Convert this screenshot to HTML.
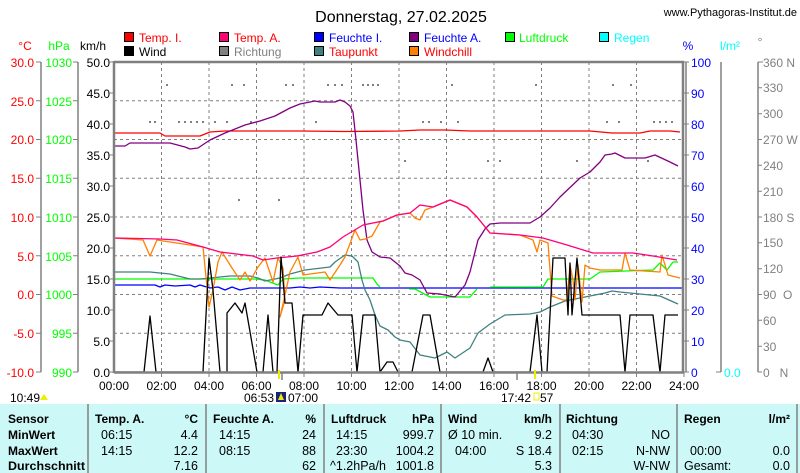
<!DOCTYPE html>
<html><head><meta charset="utf-8"><style>
html,body{margin:0;padding:0;background:#fff;}
svg{display:block;font-family:"Liberation Sans",Arial,sans-serif;}
.n{font-family:"Liberation Sans Narrow","Liberation Sans",sans-serif;}
</style></head><body>
<svg width="800" height="473" viewBox="0 0 800 473" xmlns="http://www.w3.org/2000/svg">
<text x="401" y="22" font-size="16" text-anchor="middle">Donnerstag, 27.02.2025</text>
<text x="797" y="16" font-size="11" text-anchor="end" class="n">www.Pythagoras-Institut.de</text>
<g font-size="12" class="n">
<rect x="124.5" y="32.5" width="9" height="9" fill="#f00" stroke="#000"/><text x="139" y="42" fill="#f00">Temp. I.</text>
<rect x="124.5" y="46.5" width="9" height="9" fill="#000" stroke="#000"/><text x="139" y="56" fill="#000">Wind</text>
<rect x="219.5" y="32.5" width="9" height="9" fill="#f07" stroke="#000"/><text x="234" y="42" fill="#f00">Temp. A.</text>
<rect x="219.5" y="46.5" width="9" height="9" fill="#808080" stroke="#000"/><text x="234" y="56" fill="#808080">Richtung</text>
<rect x="314.5" y="32.5" width="9" height="9" fill="#00f" stroke="#000"/><text x="329" y="42" fill="#00f">Feuchte I.</text>
<rect x="314.5" y="46.5" width="9" height="9" fill="#408080" stroke="#000"/><text x="329" y="56" fill="#f00">Taupunkt</text>
<rect x="409.5" y="32.5" width="9" height="9" fill="#800080" stroke="#000"/><text x="424" y="42" fill="#00f">Feuchte A.</text>
<rect x="409.5" y="46.5" width="9" height="9" fill="#ff8000" stroke="#000"/><text x="424" y="56" fill="#f00">Windchill</text>
<rect x="505.5" y="32.5" width="9" height="9" fill="#0f0" stroke="#000"/><text x="519" y="42" fill="#0f0">Luftdruck</text>
<rect x="599.5" y="32.5" width="9" height="9" fill="#0ff" stroke="#000"/><text x="614" y="42" fill="#0ff">Regen</text>
</g>
<g font-size="12" class="n">
<text x="25" y="50" fill="#f00" text-anchor="middle">°C</text>
<text x="59" y="50" fill="#0f0" text-anchor="middle">hPa</text>
<text x="93" y="50" fill="#000" text-anchor="middle">km/h</text>
<text x="688" y="50" fill="#00f" text-anchor="middle">%</text>
<text x="730" y="50" fill="#0ff" text-anchor="middle">l/m²</text>
<text x="760" y="46" fill="#808080" text-anchor="middle">°</text>
</g>
<g stroke="#808080" stroke-width="1.5">
<line x1="41" y1="62" x2="41" y2="372"/><line x1="78" y1="62" x2="78" y2="372"/>
<line x1="721" y1="62" x2="721" y2="372"/><line x1="758" y1="62" x2="758" y2="372"/>
</g>
<g stroke="#808080" stroke-width="1">
<path d="M36 62H41M36 100.75H41M36 139.5H41M36 178.25H41M36 217H41M36 255.75H41M36 294.5H41M36 333.25H41M36 372H41"/>
<path d="M73 62H78M73 100.75H78M73 139.5H78M73 178.25H78M73 217H78M73 255.75H78M73 294.5H78M73 333.25H78M73 372H78"/>
<path d="M110 62H114M110 93H114M110 124H114M110 155H114M110 186H114M110 217H114M110 248H114M110 279H114M110 310H114M110 341H114M110 372H114"/>
<path d="M684 62H689M684 93H689M684 124H689M684 155H689M684 186H689M684 217H689M684 248H689M684 279H689M684 310H689M684 341H689M684 372H689"/>
<path d="M716 372H721"/>
<path d="M758 62H763M758 87.8H762M758 113.7H762M758 139.5H762M758 165.3H762M758 191.2H762M758 217H762M758 242.8H762M758 268.7H762M758 294.5H762M758 320.3H762M758 346.2H762M758 372H762"/>
</g>
<g font-size="12" class="n" text-anchor="end" fill="#f00">
<text x="34" y="67">30.0</text><text x="34" y="106">25.0</text><text x="34" y="144">20.0</text><text x="34" y="183">15.0</text><text x="34" y="222">10.0</text><text x="34" y="261">5.0</text><text x="34" y="299">0.0</text><text x="34" y="338">-5.0</text><text x="34" y="377">-10.0</text>
</g>
<g font-size="12" class="n" text-anchor="end" fill="#0f0">
<text x="72" y="67">1030</text><text x="72" y="106">1025</text><text x="72" y="144">1020</text><text x="72" y="183">1015</text><text x="72" y="222">1010</text><text x="72" y="261">1005</text><text x="72" y="299">1000</text><text x="72" y="338">995</text><text x="72" y="377">990</text>
</g>
<g font-size="12" class="n" text-anchor="end" fill="#000">
<text x="110" y="67">50.0</text><text x="110" y="98">45.0</text><text x="110" y="129">40.0</text><text x="110" y="160">35.0</text><text x="110" y="191">30.0</text><text x="110" y="222">25.0</text><text x="110" y="253">20.0</text><text x="110" y="284">15.0</text><text x="110" y="315">10.0</text><text x="110" y="346">5.0</text><text x="110" y="377">0.0</text>
</g>
<g font-size="12" class="n" fill="#00f">
<text x="691" y="67">100</text><text x="691" y="98">90</text><text x="691" y="129">80</text><text x="691" y="160">70</text><text x="691" y="191">60</text><text x="691" y="222">50</text><text x="691" y="253">40</text><text x="691" y="284">30</text><text x="691" y="315">20</text><text x="691" y="346">10</text><text x="691" y="377">0</text>
</g>
<text x="724" y="377" font-size="12" class="n" fill="#0ff">0.0</text>
<g font-size="12" class="n" fill="#808080">
<text x="763" y="67">360 N</text><text x="763" y="92">330</text><text x="763" y="118">300</text><text x="763" y="144">270 W</text><text x="763" y="170">240</text><text x="763" y="196">210</text><text x="763" y="222">180 S</text><text x="763" y="247">150</text><text x="763" y="273">120</text><text x="763" y="299">90&#160;&#160;O</text><text x="763" y="325">60</text><text x="763" y="351">30</text><text x="763" y="377">0&#160;&#160;&#160;N</text>
</g>
<g stroke="#808080" stroke-width="1" stroke-dasharray="3,3">
<path d="M161.5 62V372M209 62V372M256.5 62V372M304 62V372M351.5 62V372M399 62V372M446.5 62V372M494 62V372M541.5 62V372M589 62V372M636.5 62V372"/>
<path d="M114 100.75H684M114 139.5H684M114 178.25H684M114 217H684M114 255.75H684M114 294.5H684M114 333.25H684"/>
</g>
<g fill="#808080">
<rect x="166" y="84" width="2" height="2"/><rect x="231" y="84" width="2" height="2"/><rect x="243" y="84" width="2" height="2"/><rect x="285" y="84" width="2" height="2"/><rect x="292" y="84" width="2" height="2"/><rect x="327" y="84" width="2" height="2"/><rect x="334" y="84" width="2" height="2"/><rect x="341" y="84" width="2" height="2"/><rect x="362" y="84" width="2" height="2"/><rect x="367" y="84" width="2" height="2"/><rect x="372" y="84" width="2" height="2"/><rect x="377" y="84" width="2" height="2"/><rect x="451" y="84" width="2" height="2"/><rect x="535" y="84" width="2" height="2"/><rect x="612" y="84" width="2" height="2"/><rect x="630" y="84" width="2" height="2"/>
<rect x="149" y="121" width="2" height="2"/><rect x="154" y="121" width="2" height="2"/><rect x="178" y="121" width="2" height="2"/><rect x="184" y="121" width="2" height="2"/><rect x="190" y="121" width="2" height="2"/><rect x="196" y="121" width="2" height="2"/><rect x="202" y="121" width="2" height="2"/><rect x="214" y="121" width="2" height="2"/><rect x="226" y="121" width="2" height="2"/><rect x="250" y="121" width="2" height="2"/><rect x="315" y="121" width="2" height="2"/><rect x="422" y="121" width="2" height="2"/><rect x="428" y="121" width="2" height="2"/><rect x="440" y="121" width="2" height="2"/><rect x="457" y="121" width="2" height="2"/><rect x="606" y="121" width="2" height="2"/><rect x="618" y="121" width="2" height="2"/><rect x="653" y="121" width="2" height="2"/><rect x="659" y="121" width="2" height="2"/><rect x="665" y="121" width="2" height="2"/><rect x="671" y="121" width="2" height="2"/>
<rect x="404" y="160" width="2" height="2"/><rect x="487" y="160" width="2" height="2"/><rect x="499" y="160" width="2" height="2"/><rect x="576" y="160" width="2" height="2"/><rect x="647" y="160" width="2" height="2"/><rect x="238" y="199" width="2" height="2"/><rect x="278" y="199" width="2" height="2"/>
</g>
<g fill="none" stroke-width="1.3" stroke-linejoin="round">
<polyline stroke="#f00" points="114,133 160,133 165,136 200,136 210,132 225,131 300,131 345,131.5 400,131 420,130 445,130 470,131 590,131 612,133 640,133 650,131 670,131 680,132"/>
<polyline stroke="#00f" points="114,285 155,285 160,287 165,285 175,286 190,285 195,287 200,285 210,288 218,287 225,290 232,287 240,290 250,288 260,288 290,288 300,287 310,288 320,287 340,288 684,288"/>
<polyline stroke="#0f0" points="114,279 255,279 265,280 270,282 278,285 283,279 300,278 373,278 377,284 380,287"/>
<polyline stroke="#0f0" points="409,289 415,289 430,297 470,297 477,289"/>
<polyline stroke="#0f0" points="490,287 543,287 548,279 590,279 600,272 653,270 660,263 667,270 673,262 678,262"/>
<polyline stroke="#408080" points="114,272 150,272 170,274 190,279 200,279 230,276 250,276 258,278 265,281 280,278 290,274 305,270 330,267 335,262 345,255 352,256 358,262 362,280 365,290 370,300 375,315 380,326 388,330 395,337 400,340 410,342 420,355 430,357 435,358 447,352 455,358 470,348 478,333 490,324 505,315 530,314 540,312 550,307 565,301 580,298 590,296 605,293 612,291 620,292 640,294 660,296 678,304"/>
<polyline stroke="#800080" points="114,146 125,146 130,143 170,143 185,147 190,149 198,148 210,140 225,133 245,125 260,121 275,116 290,108 300,104 310,102 315,101 320,102 335,102 340,100 345,102 350,106 353,112 356,140 360,180 363,210 367,240 372,252 380,257 390,258 395,262 400,266 405,273 412,275 420,280 427,293 440,294 455,297 460,291 465,285 470,272 478,240 485,229 490,224 500,223 530,223 540,217 550,208 560,197 580,178 590,172 600,162 605,155 612,154 615,153 625,158 645,158 655,155 670,162 678,166"/>
<polyline stroke="#ff8000" points="114,238 143,240 150,256 157,240 203,247 209,307 213,290 218,262 222,252 232,268 240,280 245,272 250,281 258,267 265,258 273,282 278,258 283,268 285,300 280,317 285,295 290,272 298,257 303,275 310,274 325,272 330,280 340,265 345,257 355,230 360,240 365,239 372,236 380,222 383,221 397,215 410,213 415,218 420,220 425,210 433,207 450,200 467,207 477,217 490,233 520,235 533,240 537,252 540,240 548,243 552,296 563,300 567,300 570,265 573,280 575,300 578,265 582,302 585,265 590,268 600,270 622,270 625,253 630,270 660,272 662,255 668,275 680,278"/>
<polyline stroke="#f07" points="114,238 160,239 177,240 203,247 220,252 253,256 263,260 277,258 297,256 317,252 330,247 343,237 363,225 383,221 397,215 410,213 420,205 433,207 450,200 467,207 477,217 490,233 520,235 543,238 567,245 593,253 633,253 653,256 677,260"/>
<polyline stroke="#000" points="114,372 144,372 150,316 156,372 203,372 209,258 213,290 220,372 227,372 227,313 235,303 242,313 245,303 257,372 263,372 268,315 273,372 277,372 281,257 285,303 292,303 298,372 303,315 322,315 328,303 338,315 352,315 357,372 363,315 375,315 380,372 387,362 393,362 398,372 412,372 423,315 430,315 440,372 483,372 488,358 493,372 530,372 537,315 542,372 547,372 553,258 565,258 568,315 570,263 572,315 577,258 582,315 620,315 625,372 630,315 653,315 660,372 665,315 678,315"/>
</g>
<g stroke="#808080" stroke-width="2.5" fill="none">
<path d="M114 62H684M114 61V373M683 61V373M114 372.5H684"/>
</g>
<path d="M686 62V372" stroke="#808080" stroke-width="1.5"/>
<g stroke="#808080" stroke-width="1">
<path d="M161.5 372V377M209 372V377M256.5 372V377M304 372V377M351.5 372V377M399 372V377M446.5 372V377M494 372V377M541.5 372V377M589 372V377M636.5 372V377M684 372V377"/>
<path d="M282 372V380M517 372V380" stroke-width="1.5"/>
</g>
<rect x="278" y="370" width="2" height="9" fill="#ee0"/>
<rect x="534" y="370" width="2" height="9" fill="#ee0"/>
<g font-size="12" class="n" text-anchor="middle" fill="#000">
<text x="114" y="390">00:00</text><text x="161.5" y="390">02:00</text><text x="209" y="390">04:00</text><text x="256.5" y="390">06:00</text><text x="304" y="390">08:00</text><text x="351.5" y="390">10:00</text><text x="399" y="390">12:00</text><text x="446.5" y="390">14:00</text><text x="494" y="390">16:00</text><text x="541.5" y="390">18:00</text><text x="589" y="390">20:00</text><text x="636.5" y="390">22:00</text><text x="684" y="390">24:00</text>
</g>
<g font-size="12" class="n" fill="#000">
<text x="10" y="402">10:49</text>
<text x="244" y="402">06:53</text><text x="288" y="402">07:00</text>
<text x="501" y="402">17:42</text><text x="540" y="402">57</text>
</g>
<path d="M40 400 L44 394 L48 400Z" fill="#ee0"/>
<rect x="276" y="392" width="10" height="10" fill="#1a237e"/><path d="M281 393 L278 400 L284 400Z" fill="#ee0"/>
<rect x="534" y="393" width="5" height="7" fill="none" stroke="#ee0"/>
<rect x="0" y="404" width="800" height="69" fill="#ccf8f8"/>
<g stroke="#808080" stroke-width="1.5">
<path d="M88 404V473M206 404V473M324 404V473M441 404V473M560 404V473M677 404V473M797 404V473"/>
</g>
<g font-size="12" class="n" font-weight="bold" fill="#000">
<text x="8" y="423">Sensor</text><text x="8" y="439">MinWert</text><text x="8" y="455">MaxWert</text><text x="8" y="470" textLength="77" lengthAdjust="spacingAndGlyphs">Durchschnitt</text>
<text x="95" y="423">Temp. A.</text><text x="198" y="423" text-anchor="end">°C</text>
<text x="213" y="423">Feuchte A.</text><text x="316" y="423" text-anchor="end">%</text>
<text x="331" y="423">Luftdruck</text><text x="434" y="423" text-anchor="end">hPa</text>
<text x="448" y="423">Wind</text><text x="552" y="423" text-anchor="end">km/h</text>
<text x="566" y="423">Richtung</text>
<text x="684" y="423">Regen</text><text x="790" y="423" text-anchor="end">l/m²</text>
</g>
<g font-size="12.5" class="n" fill="#000">
<text x="101" y="439">06:15</text><text x="198" y="439" text-anchor="end">4.4</text>
<text x="101" y="455">14:15</text><text x="198" y="455" text-anchor="end">12.2</text>
<text x="198" y="470" text-anchor="end">7.16</text>
<text x="219" y="439">14:15</text><text x="316" y="439" text-anchor="end">24</text>
<text x="219" y="455">08:15</text><text x="316" y="455" text-anchor="end">88</text>
<text x="316" y="470" text-anchor="end">62</text>
<text x="336" y="439">14:15</text><text x="434" y="439" text-anchor="end">999.7</text>
<text x="336" y="455">23:30</text><text x="434" y="455" text-anchor="end">1004.2</text>
<text x="330" y="470">^1.2hPa/h</text><text x="434" y="470" text-anchor="end">1001.8</text>
<text x="448" y="439">Ø 10 min.</text><text x="552" y="439" text-anchor="end">9.2</text>
<text x="455" y="455">04:00</text><text x="552" y="455" text-anchor="end">S 18.4</text>
<text x="552" y="470" text-anchor="end">5.3</text>
<text x="572" y="439">04:30</text><text x="670" y="439" text-anchor="end">NO</text>
<text x="572" y="455">02:15</text><text x="670" y="455" text-anchor="end">N-NW</text>
<text x="670" y="470" text-anchor="end">W-NW</text>
<text x="690" y="455">00:00</text><text x="790" y="455" text-anchor="end">0.0</text>
<text x="684" y="470">Gesamt:</text><text x="790" y="470" text-anchor="end">0.0</text>
</g>
</svg>
</body></html>
